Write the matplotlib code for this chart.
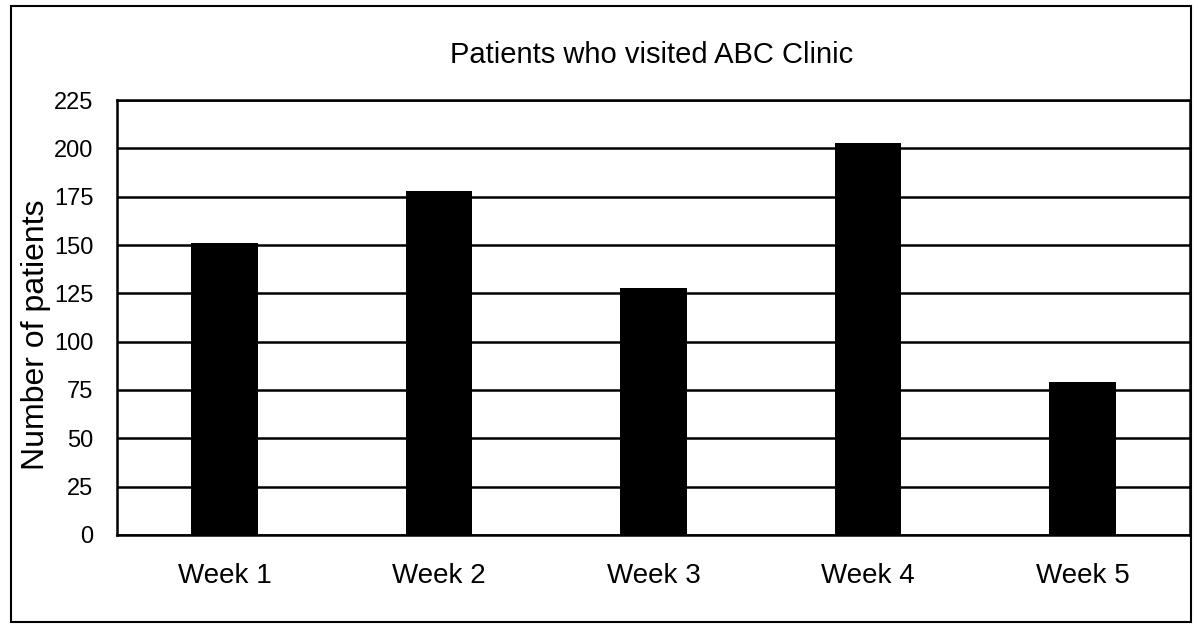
import matplotlib.pyplot as plt
from matplotlib.patches import Rectangle

weeks = ['Week 1', 'Week 2', 'Week 3', 'Week 4', 'Week 5']
patients = [151, 178, 128, 203, 79]
y_ticks = [0, 25, 50, 75, 100, 125, 150, 175, 200, 225]

plt.rcParams['font.family'] = ['Liberation Sans', 'DejaVu Sans']

fig = plt.figure(figsize=(11.96, 6.30), dpi=100)
ax = fig.add_axes([0.098, 0.151, 0.897, 0.690])

# outer frame of the chart
fig.patches.append(Rectangle((0.009, 0.013), 0.987, 0.978, transform=fig.transFigure,
                             fill=False, edgecolor='black', linewidth=1.5))

x = range(len(weeks))
ax.bar(x, patients, width=0.31, color='black', zorder=3)
ax.set_xlim(-0.5, len(weeks) - 0.5)
ax.set_ylim(0, 225)
ax.set_yticks(y_ticks)
ax.set_xticks(list(x))
ax.set_xticklabels(weeks, fontsize=20)
ax.tick_params(axis='y', labelsize=17, length=0, pad=17)
ax.tick_params(axis='x', length=0, pad=20)
ax.grid(axis='y', color='black', linewidth=1.8, zorder=1)
for s in ax.spines.values():
    s.set_linewidth(1.8)

ax.set_ylabel('Number of patients', fontsize=23)
ax.yaxis.set_label_coords(-0.062, 0.46)
fig.text(0.545, 0.912, 'Patients who visited ABC Clinic', ha='center', va='center', fontsize=21)

fig.savefig('out.png', dpi=100)
